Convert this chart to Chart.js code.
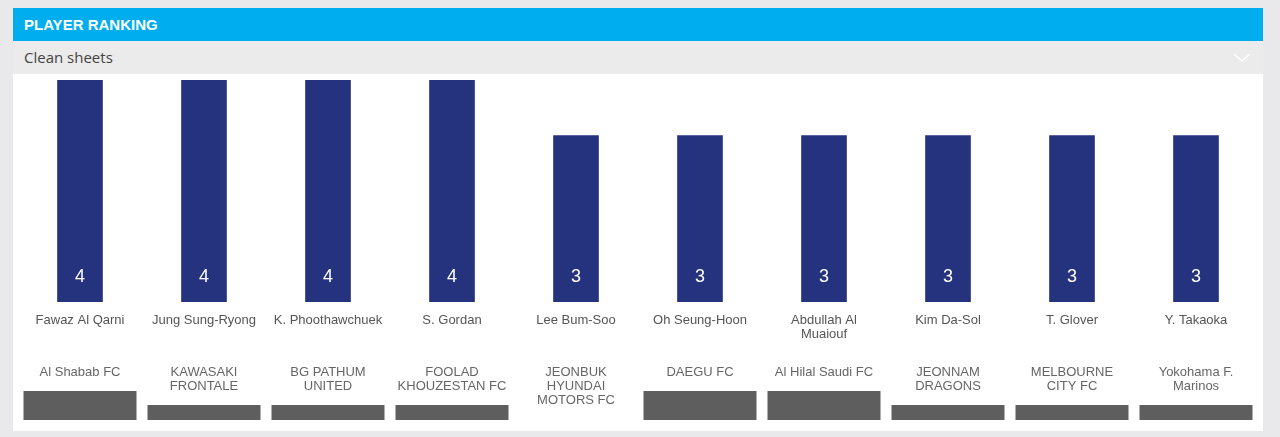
<!DOCTYPE html>
<html>
<head>
<meta charset="utf-8">
<script src="https://cdn.jsdelivr.net/npm/chart.js@4"></script>
<style>
  body { margin: 0; background: #e9e9eb; width: 1280px; height: 437px; overflow: hidden; }
  .head { position: absolute; left: 13px; top: 8px; width: 1250px; height: 33px; background: #00adef;
          color: #fff; font: bold 15px "Liberation Sans", Arial, sans-serif; line-height: 33px; }
  .head span { margin-left: 11px; }
  .sub { position: absolute; left: 13px; top: 41px; width: 1250px; height: 33px; background: #ebebeb;
         color: #444; font: 15px "Open Sans", sans-serif; line-height: 33px; }
  .sub span { margin-left: 11px; }
  .sub svg { position: absolute; right: 12px; top: 12px; }
  .panel { position: absolute; left: 13px; top: 74px; width: 1250px; height: 357px; background: #fff; }
</style>
</head>
<body>
<div class="head"><span>PLAYER RANKING</span></div>
<div class="sub"><span>Clean sheets</span>
  <svg width="18" height="10"><polyline points="1,1 9,8 17,1" fill="none" stroke="#fff" stroke-width="1.6"/></svg>
</div>
<div class="panel"><canvas id="myChart" width="1250" height="357"></canvas></div>
<script>
// players, their clubs and clean sheets
const players = ["Fawaz Al Qarni", "Jung Sung-Ryong", "K. Phoothawchuek", "S. Gordan", "Lee Bum-Soo",
                 "Oh Seung-Hoon", "Abdullah Al\nMuaiouf", "Kim Da-Sol", "T. Glover", "Y. Takaoka"];
const clubs = ["Al Shabab FC", "KAWASAKI\nFRONTALE", "BG PATHUM\nUNITED", "FOOLAD\nKHOUZESTAN FC",
               "JEONBUK\nHYUNDAI\nMOTORS FC", "DAEGU FC", "Al Hilal Saudi FC", "JEONNAM\nDRAGONS",
               "MELBOURNE\nCITY FC", "Yokohama F.\nMarinos"];
const cleanSheets = [4, 4, 4, 4, 3, 3, 3, 3, 3, 3];

// draws the numbers inside the bars, the names under them and the grey logo boxes
const labelsPlugin = {
    id: "labels",
    afterDatasetsDraw(chart) {
        const ctx = chart.ctx;
        const bars = chart.getDatasetMeta(0).data;
        ctx.save();
        ctx.textAlign = "center";
        bars.forEach((bar, i) => {
            const x = bar.x;
            ctx.fillStyle = "#fff";
            ctx.textBaseline = "alphabetic";
            ctx.font = "18px 'Liberation Sans', Arial";
            ctx.fillText(cleanSheets[i], x, 208);

            ctx.textBaseline = "middle";
            ctx.fillStyle = "#555";
            ctx.font = "13px 'Liberation Sans', Arial";
            players[i].split("\n").forEach((line, j) => ctx.fillText(line, x, 246 + j * 14));

            ctx.fillStyle = "#666";
            const lines = clubs[i].split("\n");
            lines.forEach((line, j) => ctx.fillText(line, x, 298 + j * 14));

            // grey box sits right under the club name and gets cut off at the bottom
            const top = 303 + lines.length * 14;
            const bottom = 346;
            if (bottom - top > 2) {
                ctx.fillStyle = "#5e5e5e";
                ctx.fillRect(x - 56.5, top, 113, bottom - top);
            }
        });
        ctx.restore();
    }
};

const config = {
    type: "bar",
    data: {
        labels: players,
        datasets: [{
            data: cleanSheets,
            backgroundColor: "#25337e",
            barThickness: 45
        }]
    },
    options: {
        responsive: false,
        animation: false,
        layout: { padding: { left: 5, right: 5, top: 6, bottom: 129 } },
        scales: {
            x: { display: false },
            y: { display: false, min: 0, max: 4 }
        },
        plugins: {
            legend: { display: false },
            tooltip: { enabled: false }
        }
    },
    plugins: [labelsPlugin]
};

const ctx = document.getElementById("myChart").getContext("2d");
const myChart = new Chart(ctx, config);
</script>
</body>
</html>
